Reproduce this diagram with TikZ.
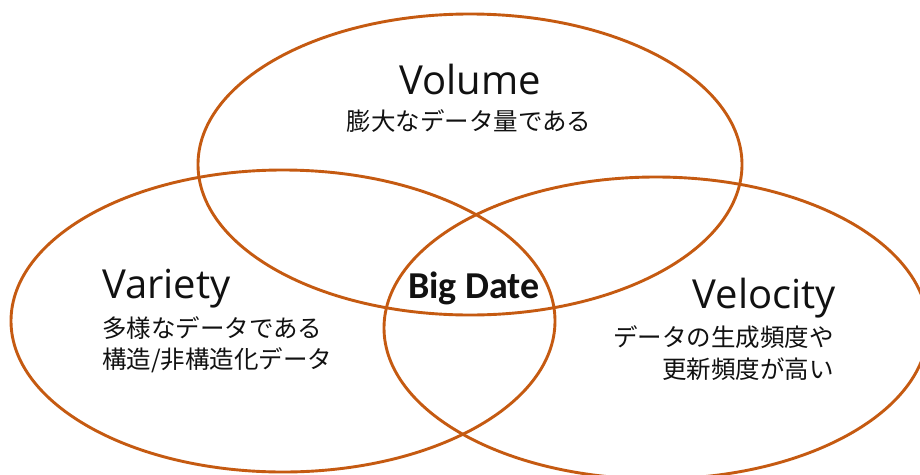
\documentclass[tikz,border=0pt]{standalone}
\usepackage{fontspec}
\setmainfont{Open Sans}
\newfontfamily\cjk{Noto Sans CJK JP}
\newfontfamily\carl{Carlito}
\definecolor{ring}{HTML}{C55A11}
\definecolor{ink}{HTML}{111111}
\begin{document}
\begin{tikzpicture}[x=1pt,y=-1pt,
  ring/.style={draw=ring, line width=2.9pt},
  title/.style={inner sep=0pt, text=ink, font=\fontsize{40}{42}\selectfont},
  jp/.style={inner sep=0pt, text=ink, font=\cjk\fontsize{24.5}{26}\selectfont},
  core/.style={inner sep=0pt, text=ink, font=\carl\bfseries\fontsize{38}{40}\selectfont}]
\useasboundingbox (0,0) rectangle (920,474);
\fill[white] (0,0) rectangle (920,474);
\draw[ring] (470,164.5) ellipse [x radius=272pt, y radius=150.5pt];
\draw[ring] (283,321) ellipse [x radius=272pt, y radius=151pt];
\draw[ring] (656,328) ellipse [x radius=272pt, y radius=151pt];
% Volume
\node[title, anchor=base] (vol) at (470,94) {Volume};
\node[jp, anchor=base] (volj) at (469,130) {膨大なデータ量である};
% Variety
\node[title, anchor=base west] (var) at (102,298) {Variety};
\node[jp, anchor=base west] (varj1) at (102,337) {多様なデータである};
\node[jp, anchor=base west] (varj2) at (102,368) {構造/非構造化データ};
% Velocity
\node[title, anchor=base east] (vel) at (836,308) {Velocity};
\node[jp, anchor=base east] (velj1) at (834,346) {データの生成頻度や};
\node[jp, anchor=base east] (velj2) at (834,378) {更新頻度が高い};
% center
\node[core, anchor=base] (big) at (474,298) {Big Date};
\end{tikzpicture}
\end{document}
